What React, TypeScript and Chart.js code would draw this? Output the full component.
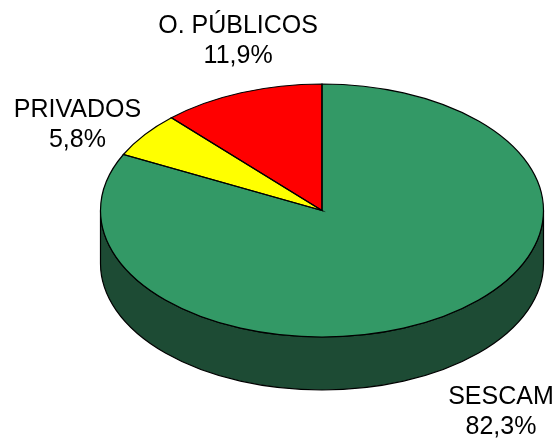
import React, { useEffect, useRef } from "react";
import { Chart, registerables } from "chart.js";

Chart.register(...registerables);

// ---- data ----
const CATEGORIES = ["SESCAM", "PRIVADOS", "O. PÚBLICOS"];
const SHARES = [82.3, 5.8, 11.9];

// ---- styles ----
const TOP_COLORS = ["#339966", "#FFFF00", "#FF0000"];
const SIDE_COLORS = ["#1D4B34", "#808000", "#800000"];
const TILT = 126.5 / 221.5; // vertical squash of the pie top
const DEPTH = 53; // thickness of the 3D side wall
const PIE_RADIUS = 221.5;
const LABEL_NUDGE: [number, number][] = [
  [62, 39],
  [-67, -12],
  [-3, -54],
];
const LABEL_FONT = "25px 'Liberation Sans', Arial, sans-serif";
const LINE_GAP = 30;

const fmt = (v: number) => v.toFixed(1).replace(".", ",") + "%";

const pie3d = {
  id: "pie3d",
  beforeDatasetsDraw(chart: any) {
    const ctx = chart.ctx as CanvasRenderingContext2D;
    const arcs = chart.getDatasetMeta(0).data;
    const { x: cx, y: cy, outerRadius: rx } = arcs[0].getProps(["x", "y", "outerRadius"], true);
    const ry = rx * TILT;
    ctx.save();
    arcs.forEach((arc: any, i: number) => {
      const { startAngle: s, endAngle: e } = arc.getProps(["startAngle", "endAngle"], true);
      for (const base of [0, 2 * Math.PI]) {
        const a = Math.max(s, base);
        const b = Math.min(e, base + Math.PI);
        if (b <= a) continue;
        ctx.beginPath();
        ctx.ellipse(cx, cy, rx, ry, 0, a, b, false);
        ctx.ellipse(cx, cy + DEPTH, rx, ry, 0, b, a, true);
        ctx.closePath();
        ctx.fillStyle = SIDE_COLORS[i];
        ctx.fill();
        ctx.lineWidth = 1.2;
        ctx.strokeStyle = "#000";
        ctx.stroke();
      }
    });
    ctx.restore();
    ctx.save();
    ctx.translate(cx, cy);
    ctx.scale(1, TILT);
    ctx.translate(-cx, -cy);
  },
  afterDatasetsDraw(chart: any) {
    const ctx = chart.ctx as CanvasRenderingContext2D;
    ctx.restore();
    const arcs = chart.getDatasetMeta(0).data;
    const { x: cx, y: cy, outerRadius: rx } = arcs[0].getProps(["x", "y", "outerRadius"], true);
    const ry = rx * TILT;
    ctx.save();
    ctx.lineWidth = 1.2;
    ctx.strokeStyle = "#000";
    arcs.forEach((arc: any) => {
      const { startAngle: s, endAngle: e } = arc.getProps(["startAngle", "endAngle"], true);
      ctx.beginPath();
      ctx.moveTo(cx, cy);
      ctx.ellipse(cx, cy, rx, ry, 0, s, e, false);
      ctx.closePath();
      ctx.stroke();
    });
    // labels
    ctx.font = LABEL_FONT;
    ctx.fillStyle = "#000";
    ctx.textAlign = "center";
    ctx.textBaseline = "alphabetic";
    arcs.forEach((arc: any, i: number) => {
      const { startAngle: s, endAngle: e } = arc.getProps(["startAngle", "endAngle"], true);
      const m = (s + e) / 2;
      const sn = Math.sin(m);
      const ex = cx + rx * Math.cos(m);
      const ey = cy + ry * sn + (sn > 0 ? DEPTH : 0);
      const lx = ex + LABEL_NUDGE[i][0];
      const ly = ey + LABEL_NUDGE[i][1];
      ctx.fillText(CATEGORIES[i], lx, ly - 6);
      ctx.fillText(fmt(SHARES[i]), lx, ly - 6 + LINE_GAP);
    });
    ctx.restore();
  },
};

export default function App() {
  const ref = useRef<HTMLCanvasElement | null>(null);
  useEffect(() => {
    if (!ref.current) return;
    const chart = new Chart(ref.current, {
      type: "pie",
      data: {
        labels: CATEGORIES,
        datasets: [
          {
            data: SHARES,
            backgroundColor: TOP_COLORS,
            borderWidth: 0,
            hoverOffset: 0,
            radius: PIE_RADIUS,
          } as any,
        ],
      },
      options: {
        animation: false,
        responsive: false,
        maintainAspectRatio: false,
        events: [],
        layout: { padding: { left: 84, right: 0, top: 0, bottom: 18 } },
        plugins: { legend: { display: false }, tooltip: { enabled: false } },
      },
      plugins: [pie3d],
    });
    return () => chart.destroy();
  }, []);
  return (
    <div style={{ position: "fixed", left: 0, top: 0, width: 560, height: 439, background: "#fff" }}>
      <canvas ref={ref} width={560} height={439} style={{ display: "block" }} />
    </div>
  );
}
